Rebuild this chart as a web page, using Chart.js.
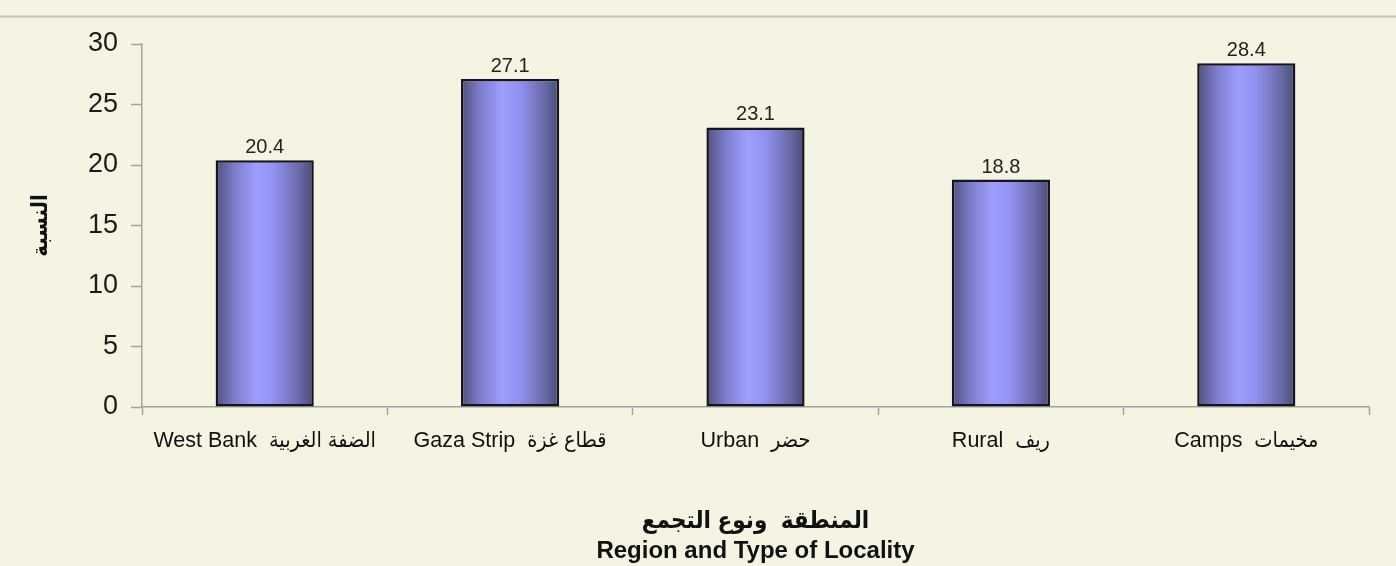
<!DOCTYPE html>
<html><head><meta charset="utf-8">
<script src="https://cdn.jsdelivr.net/npm/chart.js@4"></script>
<style>
html,body{margin:0;padding:0;background:#f5f3e1;overflow:hidden;width:1396px;height:566px}
#wrap{position:absolute;left:0;top:0;width:1396px;height:566px}
</style></head><body>
<div id="wrap"><canvas id="c"></canvas></div>
<script>
const categories = ['West Bank  الضفة الغربية', 'Gaza Strip  قطاع غزة', 'Urban  حضر', 'Rural  ريف', 'Camps  مخيمات'];
const values = [20.4, 27.1, 23.1, 18.8, 28.4];
const yMin = 0, yMax = 30, yStep = 5;
const yTitle = 'النسبة';
const xTitle = ['المنطقة  ونوع التجمع', 'Region and Type of Locality'];

const FAM = '"Liberation Sans", Arial, "DejaVu Sans Condensed", "DejaVu Sans", sans-serif';

function barFill(ctx) {
  const chart = ctx.chart;
  if (!chart.chartArea || ctx.dataIndex === undefined) return '#8c8cf0';
  const xs = chart.scales.x;
  const cx = xs.getPixelForValue(ctx.dataIndex);
  const w = (xs.width / categories.length) * 0.4;
  const g = chart.ctx.createLinearGradient(cx - w / 2, 0, cx + w / 2, 0);
  g.addColorStop(0, '#50507c');
  g.addColorStop(0.2, '#7e7ece');
  g.addColorStop(0.42, '#9e9eff');
  g.addColorStop(0.6, '#9191f0');
  g.addColorStop(0.85, '#6a6aa8');
  g.addColorStop(1, '#4a4a76');
  return g;
}

const bgPlugin = {
  id: 'bg',
  beforeDraw(chart) {
    const c = chart.ctx;
    c.save();
    c.fillStyle = '#f5f3e1';
    c.fillRect(0, 0, chart.width, chart.height);
    c.strokeStyle = '#c3c2b3';
    c.lineWidth = 2;
    c.beginPath();
    c.moveTo(0, 16.5);
    c.lineTo(chart.width, 16.5);
    c.stroke();
    c.restore();
  }
};

const labelPlugin = {
  id: 'vals',
  afterDatasetsDraw(chart) {
    const c = chart.ctx;
    const meta = chart.getDatasetMeta(0);
    c.save();
    c.font = '20px ' + FAM;
    c.fillStyle = '#222';
    c.textAlign = 'center';
    c.textBaseline = 'alphabetic';
    meta.data.forEach((el, i) => {
      c.fillText(values[i].toFixed(1), el.x, el.y - 7);
    });
    c.restore();
  }
};

new Chart(document.getElementById('c'), {
  type: 'bar',
  data: {
    labels: categories,
    datasets: [{
      data: values,
      backgroundColor: barFill,
      borderColor: '#15151f',
      borderWidth: 2.5,
      borderSkipped: false,
      barPercentage: 0.4,
      categoryPercentage: 1
    }]
  },
  options: {
    responsive: true,
    maintainAspectRatio: false,
    devicePixelRatio: 1,
    animation: false,
    layout: { padding: { top: 44, right: 27, left: 0, bottom: 0 } },
    plugins: { legend: { display: false }, tooltip: { enabled: false } },
    scales: {
      x: {
        offset: true,
        grid: { display: true, drawOnChartArea: false, drawTicks: true, tickLength: 8, tickColor: '#a3a3a0', tickWidth: 1.5, offset: true },
        border: { display: true, color: '#a3a3a0', width: 1.5 },
        ticks: { color: '#111', font: { family: FAM, size: 21.5 }, padding: 13, maxRotation: 0, autoSkip: false },
        title: { display: true, text: xTitle, color: '#111', font: { family: FAM, size: 24, weight: 'bold', lineHeight: 1.25 }, padding: { top: 0, bottom: 0 } },
        afterFit(s) { s.height = 566 - 407; }
      },
      y: {
        min: yMin, max: yMax,
        grid: { display: true, drawOnChartArea: false, drawTicks: true, tickLength: 11, tickColor: '#a3a3a0', tickWidth: 1.5 },
        border: { display: true, color: '#a3a3a0', width: 1.5 },
        ticks: { stepSize: yStep, color: '#1a1a1a', font: { family: FAM, size: 27 }, padding: 13 },
        title: { display: true, text: yTitle, color: '#111', font: { family: FAM, size: 22, weight: 'bold', lineHeight: 1.2 }, padding: { top: 27.8, bottom: 0 } },
        afterFit(s) { s.width = 142; }
      }
    }
  },
  plugins: [bgPlugin, labelPlugin]
});
</script>
</body></html>
